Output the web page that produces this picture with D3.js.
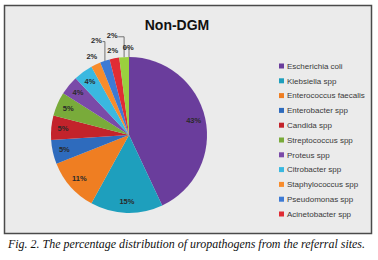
<!DOCTYPE html>
<html lang="en">
<head>
<meta charset="UTF-8">
<title>Non-DGM</title>
<script src="https://d3js.org/d3.v7.min.js"></script>
<style>
  body { margin: 0; background: #fff; font-family: "Liberation Sans", Arial, sans-serif; }
</style>
</head>
<body>
<div id="chart"></div>
<script>
// data
const categories = ["Escherichia coli", "Klebsiella spp", "Enterococcus faecalis", "Enterobacter spp",
  "Candida spp", "Streptococcus spp", "Proteus spp", "Citrobacter spp", "Staphylococcus spp",
  "Pseudomonas spp", "Acinetobacter spp", "Other (not in legend)", "Other 2 (not in legend)"];
const percents = [43, 15, 11, 5, 5, 5, 4, 4, 2, 2, 2, 2, 0];
const legendCount = 11; // legend in the picture is cut after 11 items

const colors = ["#6a3d9c", "#1e9fbd", "#ef7e22", "#2e6bbd", "#c3232b", "#79ab3a",
  "#7a4aa8", "#3ab8e0", "#f88c2c", "#3d7ad4", "#e02c34", "#9ad03e", "#8a6bb8"];

// label placement for the small slices: radius factor and angle shift (deg)
const labelPlace = [null, null, null, null, null, null, null, null,
  [1.12, 0], [1.28, -1], [1.11, 0], [1.29, -6], [1.13, -0.5]];

const W = 378, H = 260;
const svg = d3.select("#chart").append("svg").attr("width", W).attr("height", H);

// frame
svg.append("rect").attr("x", 4.5).attr("y", 5.5).attr("width", 367).attr("height", 228)
  .attr("fill", "#ebebeb").attr("stroke", "#4a4a4a").attr("stroke-width", 1.5);

svg.append("text").attr("x", 177).attr("y", 30).attr("text-anchor", "middle")
  .attr("font-size", 14).attr("font-weight", "bold").attr("fill", "#111").text("Non-DGM");

const cx = 129, cy = 135, r = 78;
const g = svg.append("g").attr("transform", `translate(${cx},${cy})`);

const pie = d3.pie().sort(null).value(d => d);
const arcs = pie(percents);
const arc = d3.arc().innerRadius(0).outerRadius(r);

g.selectAll("path").data(arcs).enter().append("path")
  .attr("d", arc)
  .attr("fill", (d, i) => colors[i]);

function polar(rad, ang) {
  return [rad * Math.sin(ang), -rad * Math.cos(ang)];
}

arcs.forEach((d, i) => {
  const mid = (d.startAngle + d.endAngle) / 2;
  const p = labelPlace[i];
  let pos;
  if (!p) {
    pos = polar(r * 0.85, mid);
  } else {
    const a = mid + p[1] * Math.PI / 180;
    pos = polar(r * p[0], a);
    if (p[0] > 1.2 || i === 12) {
      const edge = polar(r, mid);
      g.append("path")
        .attr("d", `M${pos[0] + (i === 12 ? -5 : 6)},${pos[1] + 1}L${edge[0]},${pos[1] + 1}L${edge[0]},${edge[1]}`)
        .attr("fill", "none").attr("stroke", "#555").attr("stroke-width", 0.8);
    }
  }
  g.append("text").attr("x", pos[0]).attr("y", pos[1]).attr("dy", "0.35em")
    .attr("text-anchor", "middle").attr("font-size", 7.5).attr("font-weight", "bold")
    .attr("fill", "#2a2a2a").text(percents[i] + "%");
});

// legend
const ly = d3.scaleLinear().domain([0, legendCount - 1]).range([66, 214]);
const leg = svg.append("g");
categories.slice(0, legendCount).forEach((c, i) => {
  leg.append("rect").attr("x", 279).attr("y", ly(i) - 2.5).attr("width", 5).attr("height", 5)
    .attr("fill", colors[i]);
  leg.append("text").attr("x", 287).attr("y", ly(i)).attr("dy", "0.35em")
    .attr("font-size", 8).attr("fill", "#3a3a3a").text(c);
});

svg.append("text").attr("x", 8).attr("y", 248)
  .attr("font-family", "'Liberation Serif', 'Times New Roman', serif")
  .attr("font-style", "italic").attr("font-size", 11.5).attr("fill", "#111")
  .attr("textLength", 357).attr("lengthAdjust", "spacingAndGlyphs")
  .text("Fig. 2. The percentage distribution of uropathogens from the referral sites.");
</script>
</body>
</html>
